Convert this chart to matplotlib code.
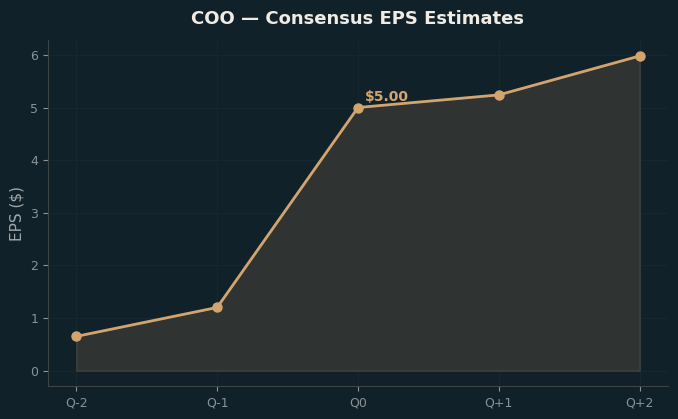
import matplotlib.pyplot as plt

quarters = ['Q-2', 'Q-1', 'Q0', 'Q+1', 'Q+2']
eps = [0.65, 1.20, 5.00, 5.24, 5.98]

bg = '#10212a'
line_c = '#d4a46e'

fig, ax = plt.subplots(figsize=(6.78, 4.19), dpi=100)
fig.patch.set_facecolor(bg)
ax.set_facecolor(bg)

x = range(len(quarters))
ax.fill_between(x, eps, 0, color='#3a3a36', alpha=0.75, edgecolor='#4a4a40', linewidth=1)
ax.plot(x, eps, color=line_c, linewidth=2, marker='o', markersize=6.5)

ax.annotate(f'${eps[2]:.2f}', (2, eps[2]), xytext=(5, 5), textcoords='offset points',
            color=line_c, fontsize=10, fontweight='bold')

ax.set_xticks(list(x))
ax.set_xticklabels(quarters)
ax.set_ylabel('EPS ($)', color='#a0a8aa', fontsize=11)
ax.set_title('COO — Consensus EPS Estimates', color='#f0ece4', fontsize=13,
             fontweight='bold', pad=12)

ax.tick_params(colors='#8a9396', labelsize=9)
for s in ['top', 'right']:
    ax.spines[s].set_visible(False)
for s in ['left', 'bottom']:
    ax.spines[s].set_color('#3d4446')
ax.grid(True, color='#16272e', linewidth=0.8)
ax.set_axisbelow(True)

fig.subplots_adjust(left=0.071, right=0.985, bottom=0.078, top=0.904)
plt.savefig('out.png', facecolor=bg)
